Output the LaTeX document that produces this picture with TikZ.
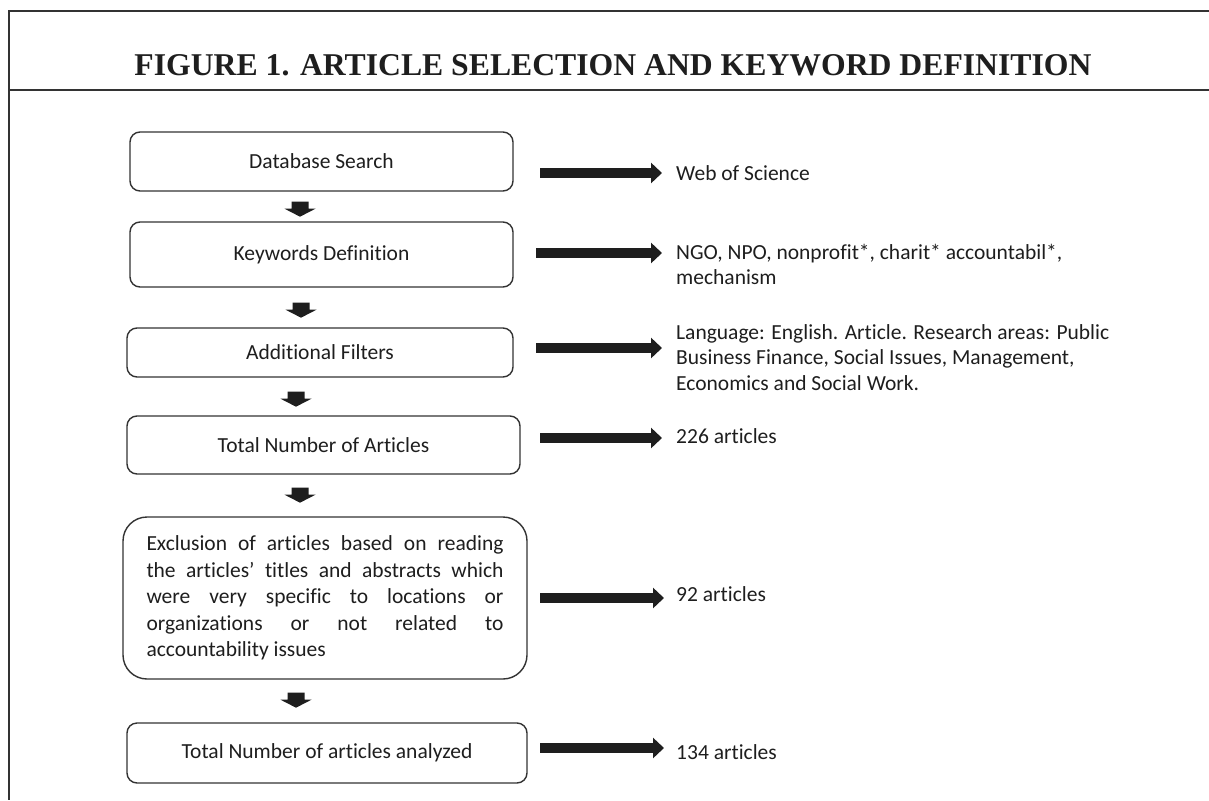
\documentclass[tikz,border=0pt]{standalone}
\usepackage{fontspec}
\setmainfont{Carlito}[Ligatures=NoCommon]
\newfontfamily\titlefont{Liberation Serif}
\usetikzlibrary{arrows.meta}
\definecolor{ink}{HTML}{1E1E1E}
\definecolor{framec}{HTML}{333333}
\begin{document}
\begin{tikzpicture}[x=1pt,y=-1pt,
  box/.style={draw=framec, line width=1.4pt, rounded corners=10pt, inner sep=0pt, text=ink,
    font=\fontsize{21.5}{26.5}\selectfont},
  lab/.style={inner sep=0pt, text=ink, font=\fontsize{21.5}{25.5}\selectfont, align=left},
  downblock/.pic={\fill[ink] (-8.5,0) -- (8.5,0) -- (8.5,7) -- (15.5,7) -- (0,15) -- (-15.5,7) -- (-8.5,7) -- cycle;},
  rightarr/.style={draw=ink, line width=9.5pt, -{Triangle[width=20pt,length=11pt]}, shorten >=14pt},
]
\useasboundingbox (0,0) rectangle (1209,800);
\fill[white] (0,0) rectangle (1209,800);
\draw[framec, line width=1.5pt] (1209,11) -- (9,11) -- (9,800);
\draw[framec, line width=1.5pt] (9,90) -- (1209,90);
\node[anchor=base, inner sep=0pt, text=ink, font=\titlefont\bfseries\fontsize{31.7}{36}\selectfont] (title) at (613,75) {FIGURE 1. ARTICLE SELECTION AND KEYWORD DEFINITION};

% boxes
\node[box, minimum width=383pt, minimum height=59pt] (b1) at (321.5,161.5) {Database Search};
\node[box, minimum width=383pt, minimum height=65pt] (b2) at (321.5,254.5) {Keywords Definition};
\node[box, minimum width=386pt, minimum height=49pt] (b3) at (320,352.5) {Additional Filters};
\node[box, minimum width=393pt, minimum height=58pt] (b4) at (323.5,445) {Total Number of Articles};
\node[box, rounded corners=24pt, minimum width=404pt, minimum height=162pt, text width=357pt, align=justify] (b5) at (325,598)
  {Exclusion of articles based on reading\linebreak the articles’ titles and abstracts which\linebreak were very specific to locations or\linebreak organizations or not related to\linebreak accountability issues};
\node[box, minimum width=400pt, minimum height=60pt] (b6) at (327,753) {Total Number of articles analyzed};

% down arrows
\pic at ([xshift=-21.5pt,yshift=-10pt]b1.south) {downblock};
\pic at ([xshift=-20.5pt,yshift=-15pt]b2.south) {downblock};
\pic at ([xshift=-24pt,yshift=-14pt]b3.south) {downblock};
\pic at ([xshift=-23.5pt,yshift=-13pt]b4.south) {downblock};
\pic at ([xshift=-29pt,yshift=-13pt]b5.south) {downblock};

% right labels
\node[lab, anchor=base west] (t1) at (676,180) {Web of Science};
\node[lab, anchor=north west] (t2) at (676,244) {NGO, NPO, nonprofit*, charit* accountabil*,\\mechanism};
\node[lab, anchor=north west] (t3) at (676,324) {Language: English. Article. Research areas: Public\\Business Finance, Social Issues, Management,\\Economics and Social Work.};
\node[lab, anchor=base west] (t4) at (676,443) {226 articles};
\node[lab, anchor=base west] (t5) at (676,601) {92 articles};
\node[lab, anchor=base west] (t6) at (676,759) {134 articles};

\coordinate (r1) at (540,173);
\coordinate (r2) at (536,253);
\coordinate (r3) at (536,348);
\coordinate (r4) at (540,438);
\coordinate (r5) at (540,598);
\coordinate (r6) at (540,748);
\draw[rightarr] (r1) -- (r1 -| t1.west);
\draw[rightarr] (r2) -- (r2 -| t2.west);
\draw[rightarr] (r3) -- (r3 -| t3.west);
\draw[rightarr] (r4) -- (r4 -| t4.west);
\draw[rightarr, shorten >=12pt] (r5) -- (r5 -| t5.west);
\draw[rightarr, shorten >=12pt] (r6) -- (r6 -| t6.west);
\end{tikzpicture}
\end{document}
